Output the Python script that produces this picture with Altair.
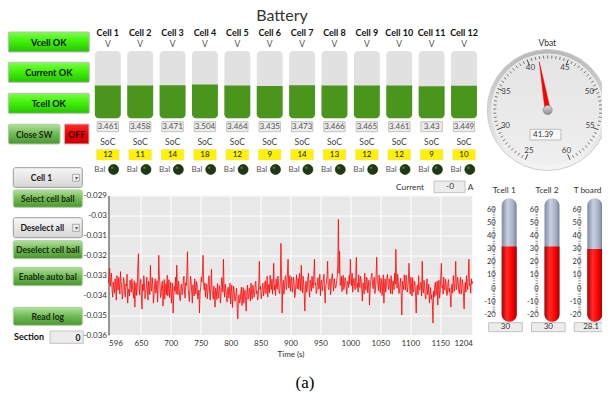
import altair as alt
import numpy as np
import pandas as pd

# ===================== DATA =====================
cell_names = ["Cell 1", "Cell 2", "Cell 3", "Cell 4", "Cell 5", "Cell 6",
              "Cell 7", "Cell 8", "Cell 9", "Cell 10", "Cell 11", "Cell 12"]
cell_voltages = [3.461, 3.458, 3.471, 3.504, 3.464, 3.435,
                 3.473, 3.466, 3.465, 3.461, 3.430, 3.449]
cell_voltage_text = ["3.461", "3.458", "3.471", "3.504", "3.464", "3.435",
                     "3.473", "3.466", "3.465", "3.461", "3.43", "3.449"]
cell_soc = [12, 11, 14, 18, 12, 9, 14, 13, 12, 12, 9, 10]

temp_names = ["Tcell 1", "Tcell 2", "T board"]
temp_values = [30.0, 30.0, 28.1]
temp_text = ["30", "30", "28.1"]
temp_tick_labels = [60, 50, 40, 30, 20, 10, 0, -10, -20]

vbat_value = 41.39
vbat_text = "41.39"
vbat_tick_labels = [25, 30, 35, 40, 45, 50, 55, 60]
current_text = "-0"
section_text = "0"

# current samples, one per second from t = 596 s, in units of 1e-5 (i.e. -3340 -> -0.03340)
time_start = 596
time_step = 1
current_signal_1e5 = [
    -3340, -3300, -3265, -3355, -3320, -3290, -3372, -3410, -3335, -3362, -3390, -3318, -3348, -3425, -3302, -3350, -3375, -3310, -3345, -3395,
    -3282, -3335, -3360, -3420, -3398, -3312, -3330, -3375, -3410, -3345, -3355, -3295, -3440, -3388, -3370, -3405, -3325, -3352, -3385, -3318,
    -3350, -3392, -3415, -3328, -3460, -3370, -3338, -3402, -3365, -3258, -3192, -3362, -3400, -3338, -3320, -3415, -3470, -3345, -3378, -3302,
    -3340, -3418, -3392, -3355, -3310, -3380, -3425, -3330, -3362, -3398, -3250, -3365, -3380, -3312, -3345, -3440, -3405, -3352, -3318, -3390,
    -3372, -3328, -3435, -3360, -3200, -3305, -3350, -3412, -3395, -3345, -3330, -3455, -3388, -3322, -3420, -3370, -3342, -3398, -3300, -3405,
    -3368, -3322, -3412, -3375, -3335, -3440, -3385, -3340, -3490, -3402, -3355, -3378, -3310, -3395, -3250, -3352, -3398, -3330, -3362, -3418,
    -3428, -3360, -3345, -3398, -3380, -3325, -3305, -3392, -3415, -3338, -3352, -3282, -3182, -3370, -3395, -3432, -3368, -3305, -3330, -3385,
    -3440, -3348, -3372, -3405, -3318, -3362, -3395, -3332, -3350, -3420, -3408, -3375, -3490, -3390, -3360, -3310, -3335, -3282, -3200, -3350,
    -3375, -3338, -3410, -3362, -3345, -3418, -3382, -3325, -3302, -3395, -3425, -3350, -3270, -3378, -3390, -3420, -3355, -3398, -3460, -3365,
    -3380, -3422, -3342, -3390, -3415, -3352, -3365, -3440, -3398, -3312, -3330, -3385, -3220, -3358, -3410, -3345, -3372, -3402, -3435, -3368,
    -3360, -3415, -3392, -3340, -3445, -3382, -3350, -3462, -3410, -3355, -3378, -3430, -3425, -3390, -3365, -3468, -3520, -3410, -3398, -3440,
    -3432, -3385, -3360, -3452, -3405, -3362, -3440, -3398, -3375, -3428, -3480, -3395, -3350, -3420, -3412, -3365, -3388, -3430, -3340, -3395,
    -3420, -3350, -3365, -3410, -3398, -3345, -3330, -3392, -3378, -3425, -3412, -3340, -3230, -3372, -3355, -3418, -3395, -3362, -3340, -3405,
    -3385, -3340, -3328, -3392, -3362, -3305, -3410, -3360, -3345, -3388, -3300, -3352, -3372, -3320, -3395, -3342, -3240, -3375, -3350, -3402,
    -3318, -3362, -3370, -3305, -3340, -3385, -3392, -3335, -3140, -3290, -3490, -3358, -3325, -3395, -3365, -3310, -3302, -3372, -3350, -3280,
    -3220, -3365, -3345, -3302, -3380, -3328, -3310, -3385, -3362, -3310, -3335, -3412, -3395, -3340, -3298, -3368, -3350, -3315, -3372, -3290,
    -3320, -3378, -3250, -3352, -3388, -3305, -3345, -3398, -3480, -3360, -3330, -3385, -3368, -3312, -3290, -3372, -3410, -3325, -3342, -3380,
    -3305, -3358, -3365, -3298, -3220, -3348, -3340, -3392, -3385, -3330, -3312, -3370, -3360, -3295, -3402, -3340, -3325, -3378, -3352, -3310,
    -3296, -3385, -3440, -3350, -3340, -3302, -3230, -3362, -3372, -3340, -3318, -3398, -3355, -3310, -3292, -3345, -3380, -3318, -3336, -3365,
    -3360, -3328, -3310, -3250, -3020, -3290, -3180, -3352, -3345, -3305, -3382, -3335, -3300, -3372, -3358, -3312, -3325, -3360, -3395, -3330,
    -3338, -3362, -3300, -3345, -3220, -3310, -3352, -3290, -3385, -3338, -3315, -3350, -3372, -3302, -3210, -3362, -3340, -3385, -3298, -3345,
    -3362, -3305, -3325, -3370, -3430, -3338, -3345, -3395, -3290, -3352, -3375, -3310, -3318, -3388, -3355, -3325, -3450, -3368, -3330, -3302,
    -3290, -3345, -3368, -3322, -3310, -3392, -3370, -3298, -3210, -3330, -3345, -3378, -3300, -3352, -3388, -3315, -3325, -3402, -3350, -3298,
    -3440, -3350, -3318, -3385, -3360, -3310, -3295, -3352, -3372, -3318, -3335, -3392, -3302, -3345, -3395, -3328, -3340, -3372, -3290, -3345,
    -3170, -3310, -3365, -3295, -3330, -3392, -3380, -3345, -3315, -3402, -3500, -3330, -3352, -3372, -3298, -3340, -3375, -3300, -3325, -3385,
    -3360, -3318, -3240, -3352, -3395, -3310, -3342, -3405, -3312, -3385, -3372, -3330, -3338, -3412, -3490, -3362, -3350, -3398, -3302, -3372,
    -3375, -3340, -3335, -3405, -3230, -3372, -3390, -3325, -3352, -3410, -3420, -3365, -3318, -3398, -3385, -3345, -3440, -3400, -3362, -3420,
    -3398, -3445, -3540, -3380, -3410, -3352, -3335, -3402, -3378, -3330, -3450, -3370, -3325, -3415, -3388, -3302, -3240, -3362, -3352, -3395,
    -3310, -3362, -3375, -3320, -3340, -3402, -3398, -3338, -3322, -3385, -3365, -3410, -3460, -3352, -3345, -3390, -3302, -3345, -3380, -3318,
    -3230, -3372, -3358, -3310, -3325, -3380, -3392, -3340, -3310, -3395, -3368, -3322, -3345, -3405, -3470, -3360, -3335, -3385, -3302, -3350,
    -3372, -3310, -3220, -3352, -3345, -3390, -3318, -3345, -3330,
]
x_tick_labels = [596, 650, 700, 750, 800, 850, 900, 950, 1000, 1050, 1100, 1150, 1204]
y_tick_labels = [-0.036, -0.035, -0.034, -0.033, -0.032, -0.031, -0.03, -0.029]

# ===================== LAYOUT (page pixels) =====================
PL, PT, PW, PH = 108.5, 195.5, 364.0, 139.5
TOTAL_W, TOTAL_H = 594.0, 389.0
FONT = "Lato"


def X(v):
    return v - PL


def Y(v):
    return v - PT


def vgrad(stops):
    return alt.Gradient(gradient="linear", x1=0, x2=0, y1=0, y2=1,
                        stops=[alt.GradientStop(offset=o, color=c) for o, c in stops])


def hgrad(stops):
    return alt.Gradient(gradient="linear", x1=0, x2=1, y1=0, y2=0,
                        stops=[alt.GradientStop(offset=o, color=c) for o, c in stops])


def rect_layer(rows, fill, stroke=None, corner=0, sw=1.0):
    df = pd.DataFrame([{"x1": X(r[0]), "x2": X(r[1]), "y1": Y(r[2]), "y2": Y(r[3])} for r in rows])
    kw = dict(fill=fill, cornerRadius=corner)
    if stroke:
        kw.update(stroke=stroke, strokeWidth=sw)
    return alt.Chart(df).mark_rect(**kw).encode(
        x=alt.X("x1:Q", scale=None, axis=None), x2="x2:Q",
        y=alt.Y("y1:Q", scale=None, axis=None), y2="y2:Q")


def text_layer(rows, size=8.5, color="#333333", weight="normal", align="center", font=FONT,
               baseline="middle"):
    df = pd.DataFrame([{"x": X(r[0]), "y": Y(r[1]), "label": r[2]} for r in rows])
    return alt.Chart(df).mark_text(fontSize=size, color=color, fontWeight=weight, align=align,
                                   baseline=baseline, font=font).encode(
        x=alt.X("x:Q", scale=None, axis=None), y=alt.Y("y:Q", scale=None, axis=None),
        text="label:N")


layers = []

# ---- title
layers.append(text_layer([(282, 20.7, "Battery")], size=16, color="#333333", baseline="alphabetic"))

# ---- left status buttons
ok_buttons = [(8.3, 89.3, 32, 52, "Vcell OK"), (8.3, 89.3, 62.3, 82.3, "Current OK"),
              (8.3, 89.3, 93.3, 113.3, "Tcell OK")]
layers.append(rect_layer(ok_buttons, vgrad([(0, "#7cff4a"), (0.45, "#43f20a"), (1, "#25c400")]),
                         stroke="#bdbdbd", corner=1))
layers.append(text_layer([((b[0] + b[1]) / 2, (b[2] + b[3]) / 2 + 0.5, b[4]) for b in ok_buttons],
                         size=9.2, color="#111111", weight="bold"))

soft_buttons = [(8.3, 60, 124.3, 144, "Close SW"), (13.3, 82.3, 190, 207.3, "Select cell ball"),
                (13.3, 82.3, 240.7, 258.7, "Deselect cell ball"),
                (13.3, 82.3, 267.3, 285.7, "Enable auto bal"), (13.3, 82.3, 307.3, 325.3, "Read log")]
layers.append(rect_layer(soft_buttons, vgrad([(0, "#b4e0a0"), (0.45, "#74be58"), (1, "#4a9630")]),
                         stroke="#a9cf98", corner=2))
layers.append(text_layer([((b[0] + b[1]) / 2, (b[2] + b[3]) / 2 + 0.5, b[4]) for b in soft_buttons],
                         size=8.5, color="#1a2a12", weight="bold"))

off_button = [(64.3, 89, 124, 144, "OFF")]
layers.append(rect_layer(off_button, vgrad([(0, "#ff3030"), (0.5, "#f00000"), (1, "#d00000")]),
                         stroke="#c8c8c8"))
layers.append(text_layer([(76.7, 134.5, "OFF")], size=9, color="#220000", weight="bold"))

dropdowns = [(13.3, 82.3, 167.7, 187.3, "Cell 1"), (13.3, 82.3, 217.7, 237.7, "Deselect all")]
layers.append(rect_layer(dropdowns, vgrad([(0, "#f7f7f7"), (1, "#d6d6d6")]), stroke="#9c9c9c", corner=2))
layers.append(text_layer([(41.5, 178, "Cell 1"), (42.3, 228, "Deselect all")],
                         size=8.5, color="#1a1a1a", weight="bold"))
layers.append(rect_layer([(72.7, 79.3, 174.3, 181.3), (72.7, 79.3, 224.3, 231.3)], "#f4f4f4",
                         stroke="#8c8c8c", sw=0.7))
layers.append(text_layer([(76, 178.2, "▾"), (76, 228.2, "▾")], size=6, color="#555555"))

layers.append(text_layer([(14, 337, "Section")], size=9, color="#111111", weight="bold", align="left"))
layers.append(rect_layer([(50, 83.3, 331, 343.3)], "#ececec", stroke="#c4c4c4"))
layers.append(text_layer([(80.5, 337.5, section_text)], size=8.5, color="#111111", weight="bold",
                         align="right"))

# ---- cells
cells = pd.DataFrame({"i": list(range(1, 13)), "name": cell_names, "v": cell_voltages,
                      "vt": cell_voltage_text, "soc": [str(s) for s in cell_soc]})
cell_scale = alt.Scale(domain=[1, 12], range=[X(107.8), X(464.0)])
cbase = alt.Chart(cells)


def cx(field="i"):
    return alt.X(f"{field}:Q", scale=cell_scale, axis=None)


def span(chart, half):
    return chart.transform_calculate(l=f"datum.i - {half}", r=f"datum.i + {half}")


layers.append(span(cbase.mark_rect(fill="#e1e1e1", cornerRadius=4), 0.40).encode(
    x=cx("l"), x2="r:Q", y=alt.value(Y(51)), y2=alt.value(Y(118.3))))
layers.append(span(cbase.mark_rect(fill="#4a961d", cornerRadiusBottomLeft=4,
                                   cornerRadiusBottomRight=4), 0.40).encode(
    x=cx("l"), x2="r:Q",
    y=alt.Y("v:Q", scale=alt.Scale(domain=[2.0, 5.0], range=[Y(118.3), Y(51)]), axis=None),
    y2=alt.value(Y(118.3))))
layers.append(cbase.mark_text(fontSize=9, fontWeight="bold", color="#111111", font=FONT).encode(
    x=cx(), y=alt.value(Y(33)), text="name:N"))
layers.append(cbase.mark_text(text="V", fontSize=8.5, color="#555555", font=FONT).encode(
    x=cx(), y=alt.value(Y(44))))
layers.append(span(cbase.mark_rect(fill="#ececec", stroke="#c2c2c2", strokeWidth=1), 0.33).encode(
    x=cx("l"), x2="r:Q", y=alt.value(Y(121.7)), y2=alt.value(Y(131.7))))
layers.append(cbase.mark_text(fontSize=8, color="#555555", font=FONT).encode(
    x=cx(), y=alt.value(Y(127)), text="vt:N"))
layers.append(cbase.mark_text(text="SoC", fontSize=8.5, color="#444444", font=FONT).encode(
    x=cx(), y=alt.value(Y(142))))
layers.append(span(cbase.mark_rect(fill="#fff200", stroke="#e8e0a0", strokeWidth=0.5), 0.35).encode(
    x=cx("l"), x2="r:Q", y=alt.value(Y(149.5)), y2=alt.value(Y(160))))
layers.append(cbase.mark_text(fontSize=8, color="#111111", font=FONT).encode(
    x=cx(), y=alt.value(Y(155)), text="soc:N"))
layers.append(cbase.mark_text(text="Bal", fontSize=8, color="#555555", font=FONT, dx=-8).encode(
    x=cx(), y=alt.value(Y(169.5))))
layers.append(cbase.mark_point(shape="circle", filled=True, color="#1e3b10", stroke="#0c1806",
                               strokeWidth=0.6, size=100, opacity=1, xOffset=5.8).encode(
    x=cx(), y=alt.value(Y(169.5))))
layers.append(cbase.mark_point(shape="circle", filled=True, color="#4f7a3c", size=7, opacity=0.9,
                               xOffset=4.3, yOffset=-1.8).encode(
    x=cx(), y=alt.value(Y(169.5))))

# ---- current readout
layers.append(text_layer([(410, 187.5, "Current")], size=8.3, color="#333333"))
layers.append(rect_layer([(434, 465, 181, 192.7)], "#ececec", stroke="#c2c2c2"))
layers.append(text_layer([(450, 187, current_text)], size=8.3, color="#333333"))
layers.append(text_layer([(470.5, 188, "A")], size=8.3, color="#333333"))

# ---- Vbat gauge
GX, GY = X(547.7), Y(110)
layers.append(text_layer([(547.3, 42.7, "Vbat")], size=8.5, color="#333333"))
gdot = pd.DataFrame({"v": [0]})
layers.append(alt.Chart(gdot).mark_point(
    shape="circle", filled=True, size=121 ** 2, opacity=1,
    fill=vgrad([(0, "#b8b8b8"), (0.5, "#d8d8d8"), (1, "#f5f5f5")]), stroke="#cfcfcf", strokeWidth=1
).encode(x=alt.value(GX), y=alt.value(GY)))
layers.append(alt.Chart(gdot).mark_point(
    shape="circle", filled=True, size=112 ** 2, opacity=1,
    fill=vgrad([(0, "#e4e4e4"), (1, "#efefef")]), stroke="#f6f6f6", strokeWidth=0.8
).encode(x=alt.value(GX), y=alt.value(GY)))

g_vals = np.arange(25, 60.001, 0.5)
g_minor = pd.DataFrame({"v": [v for v in g_vals if abs(v % 5) > 1e-9]})
g_major = pd.DataFrame({"v": vbat_tick_labels})


def gauge_ticks(df, r_in, r_out, width):
    return alt.Chart(df).transform_calculate(
        a="(datum.v - 42.5) * 8.9 * PI / 180",
        xa=f"{GX} + {r_out} * sin(datum.a)", ya=f"{GY} - {r_out} * cos(datum.a)",
        xb=f"{GX} + {r_in} * sin(datum.a)", yb=f"{GY} - {r_in} * cos(datum.a)",
    ).mark_rule(color="#4a4a4a", strokeWidth=width).encode(
        x=alt.X("xa:Q", scale=None, axis=None), y=alt.Y("ya:Q", scale=None, axis=None),
        x2="xb:Q", y2="yb:Q")


layers.append(gauge_ticks(g_minor, 51.5, 54.5, 0.7))
layers.append(gauge_ticks(g_major, 48.5, 54.5, 1.0))
layers.append(alt.Chart(g_major).transform_calculate(
    a="(datum.v - 42.5) * 8.9 * PI / 180",
    xl=f"{GX} + 45.5 * sin(datum.a)", yl=f"{GY} - 45.5 * cos(datum.a)",
    lab="'' + datum.v",
).mark_text(fontSize=8, color="#444444", font=FONT, baseline="middle").encode(
    x=alt.X("xl:Q", scale=None, axis=None), y=alt.Y("yl:Q", scale=None, axis=None), text="lab:N"))
layers.append(rect_layer([(530, 561, 129.3, 140)], "#f8f8f8", stroke="#bdbdbd"))
layers.append(text_layer([(533, 134.8, vbat_text)], size=8, color="#333333", align="left"))
needle = pd.DataFrame({"v": [vbat_value]})
layers.append(alt.Chart(needle).transform_calculate(
    ang="(datum.v - 42.5) * 8.9 + 360"
).mark_point(shape="M -0.055 0 L 0 -1 L 0.055 0 Z", filled=True, color="#ff0000",
             stroke="#e00000", strokeWidth=0.4, size=98 ** 2, opacity=1).encode(
    x=alt.value(GX), y=alt.value(GY), angle=alt.Angle("ang:Q", scale=None)))
layers.append(alt.Chart(gdot).mark_point(
    shape="circle", filled=True, size=81, opacity=1,
    fill=vgrad([(0, "#e0e0e0"), (1, "#8a8a8a")]), stroke="#7a7a7a", strokeWidth=0.6
).encode(x=alt.value(GX), y=alt.value(GY)))

# ---- thermometers
therm = pd.DataFrame({"k": [1, 2, 3], "name": temp_names, "t": temp_values, "tt": temp_text})
th_scale = alt.Scale(domain=[1, 3], range=[X(509.2), X(594.8)])
temp_scale = alt.Scale(domain=[-20, 60], range=[Y(312.5), Y(207)])
tbase = alt.Chart(therm)


def tx(field="k"):
    return alt.X(f"{field}:Q", scale=th_scale, axis=None)


layers.append(tbase.transform_calculate(l="datum.k - 0.175", r="datum.k + 0.175").mark_rect(
    cornerRadius=7.5, fill=hgrad([(0, "#7f89a2"), (0.4, "#c9d0e0"), (0.75, "#a6b0c7"), (1, "#78829a")])
).encode(x=tx("l"), x2="r:Q", y=alt.value(Y(198.3)), y2=alt.value(Y(321.7))))
layers.append(tbase.transform_calculate(l="datum.k - 0.175", r="datum.k + 0.175").mark_rect(
    cornerRadiusBottomLeft=7.5, cornerRadiusBottomRight=7.5,
    fill=hgrad([(0, "#b00000"), (0.35, "#ff2a2a"), (0.7, "#ff0000"), (1, "#a80000")])
).encode(x=tx("l"), x2="r:Q", y=alt.Y("t:Q", scale=temp_scale, axis=None), y2=alt.value(Y(321.7))))
layers.append(tbase.transform_calculate(
    kl="datum.k - (datum.k == 3 ? 0.17 : 0.117)"
).mark_text(fontSize=8.3, color="#333333", font=FONT).encode(
    x=tx("kl"), y=alt.value(Y(190.7)), text="name:N"))
layers.append(tbase.transform_calculate(l="datum.k - 0.479", r="datum.k + 0.306").mark_rect(
    fill="#ececec", stroke="#c2c2c2", strokeWidth=1
).encode(x=tx("l"), x2="r:Q", y=alt.value(Y(322.7)), y2=alt.value(Y(331.7))))
layers.append(tbase.mark_text(fontSize=8, color="#333333", font=FONT, dx=-3.7).encode(
    x=tx(), y=alt.value(Y(327.4)), text="tt:N"))

t_labels = pd.DataFrame([(k, v, str(v)) for k in [1, 2, 3] for v in temp_tick_labels],
                        columns=["k", "v", "lab"])
layers.append(alt.Chart(t_labels).mark_text(fontSize=7.5, color="#333333", font=FONT, align="right",
                                            dx=-13.5, dy=2.5, baseline="middle").encode(
    x=tx(), y=alt.Y("v:Q", scale=temp_scale, axis=None), text="lab:N"))
t_minor = pd.DataFrame([(k, v) for k in [1, 2, 3] for v in range(-20, 61, 2)], columns=["k", "v"])
layers.append(alt.Chart(t_minor).transform_calculate(
    xa="datum.k - 16.5 / 42.8", xb="datum.k - 14 / 42.8"
).mark_rule(color="#555555", strokeWidth=0.7).encode(
    x=tx("xa"), x2="xb:Q", y=alt.Y("v:Q", scale=temp_scale, axis=None)))

# ---- caption
layers.append(text_layer([(305, 383, "(a)")], size=17, color="#000000", font="Liberation Serif"))

# ---- main time series plot
ts = pd.DataFrame({"t": [time_start + time_step * i for i in range(len(current_signal_1e5))],
                   "c": [v * 1e-5 for v in current_signal_1e5]})
line = alt.Chart(ts).mark_line(color="#ff0000", strokeWidth=0.8).encode(
    x=alt.X("t:Q", scale=alt.Scale(domain=[596, 1204], nice=False, zero=False),
            axis=alt.Axis(values=x_tick_labels, format="d", title="Time (s)", titleFontSize=8,
                          titleFontWeight="normal", titleColor="#333333", titlePadding=3,
                          titleFont=FONT, labelFont=FONT, labelFontSize=8, labelColor="#333333",
                          labelPadding=4, ticks=False, domain=False, grid=True,
                          gridColor="#ffffff", gridWidth=1, labelOverlap=False)),
    y=alt.Y("c:Q", scale=alt.Scale(domain=[-0.036, -0.029], nice=False, zero=False),
            axis=alt.Axis(values=y_tick_labels, title=None, labelFont=FONT, labelFontSize=8,
                          labelColor="#333333", labelPadding=2, ticks=False, domain=True,
                          domainColor="#555555", domainWidth=1.2, grid=True,
                          gridColor="#ffffff", gridWidth=1, labelOverlap=False,
                          labelExpr="replace(format(datum.value, '~g'), '\u2212', '-')")))
layers.append(line)

chart = alt.layer(*layers).resolve_scale(
    x="independent", y="independent"
).properties(
    width=PW, height=PH,
    autosize=alt.AutoSizeParams(type="none"),
    padding={"left": PL - 8, "top": PT - 8, "right": TOTAL_W - (PL - 8) - PW,
             "bottom": TOTAL_H - (PT - 8) - PH},
).configure_view(fill="#e8e8e8", stroke=None).configure_text(font=FONT)

chart.save("out.html", embed_options={"renderer": "svg", "actions": False})
